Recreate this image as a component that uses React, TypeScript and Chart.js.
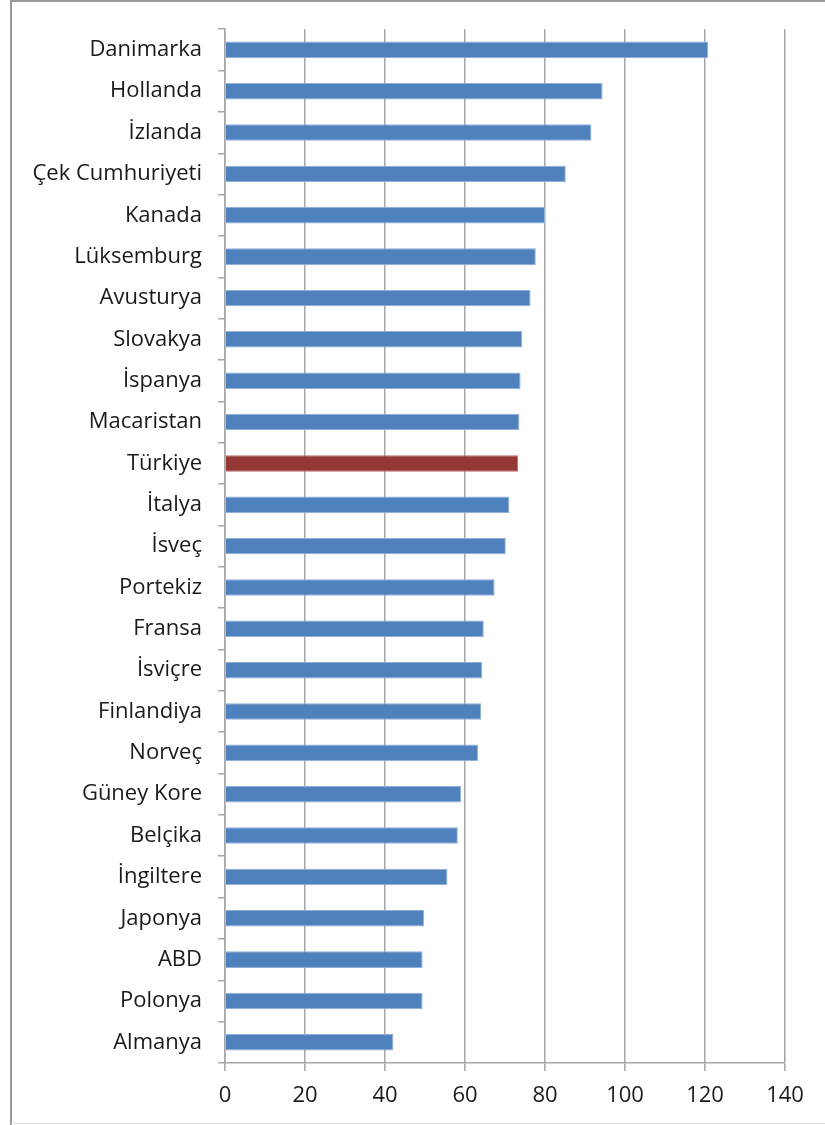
import React, { useEffect, useRef } from "react";
import { Chart, registerables } from "chart.js";

Chart.register(...registerables);

const categories: string[] = [
  "Danimarka", "Hollanda", "İzlanda", "Çek Cumhuriyeti", "Kanada", "Lüksemburg",
  "Avusturya", "Slovakya", "İspanya", "Macaristan", "Türkiye", "İtalya", "İsveç",
  "Portekiz", "Fransa", "İsviçre", "Finlandiya", "Norveç", "Güney Kore", "Belçika",
  "İngiltere", "Japonya", "ABD", "Polonya", "Almanya",
];

const values: number[] = [
  120.8, 94.4, 91.6, 85.2, 80.0, 77.7,
  76.4, 74.3, 73.9, 73.6, 73.3, 71.1, 70.2,
  67.4, 64.7, 64.3, 64.0, 63.3, 59.0, 58.2,
  55.6, 49.8, 49.4, 49.4, 42.1,
];

const highlighted = "Türkiye";
const xTicks: number[] = [0, 20, 40, 60, 80, 100, 120, 140];

const FONT = "'Open Sans', 'Noto Sans', sans-serif";

const framePlugin = {
  id: "frame",
  beforeDraw(chart: any) {
    const ctx = chart.ctx;
    ctx.save();
    ctx.fillStyle = "#ffffff";
    ctx.fillRect(0, 0, chart.width, chart.height);
    ctx.strokeStyle = "#9a9a9a";
    ctx.lineWidth = 2;
    ctx.beginPath();
    ctx.moveTo(11, chart.height);
    ctx.lineTo(11, 1);
    ctx.lineTo(chart.width, 1);
    ctx.stroke();
    ctx.strokeStyle = "#e0e0e0";
    ctx.lineWidth = 1;
    ctx.beginPath();
    ctx.moveTo(11, 1123.5);
    ctx.lineTo(chart.width, 1123.5);
    ctx.stroke();
    ctx.restore();
  },
};

export default function App() {
  const ref = useRef<HTMLCanvasElement | null>(null);

  useEffect(() => {
    if (!ref.current) return;
    const chart = new Chart(ref.current, {
      type: "bar",
      data: {
        labels: categories,
        datasets: [
          {
            data: values,
            backgroundColor: categories.map((c) => (c === highlighted ? "#953735" : "#4F81BD")),
            borderColor: categories.map((c) => (c === highlighted ? "#b86e6c" : "#8fb0da")),
            borderWidth: 1,
            barPercentage: 0.4,
            categoryPercentage: 1,
          },
        ],
      },
      options: {
        indexAxis: "y",
        responsive: false,
        animation: false,
        layout: { padding: { left: 0, top: 27, right: 40, bottom: 0 } },
        plugins: { legend: { display: false }, tooltip: { enabled: false } },
        scales: {
          x: {
            min: 0,
            max: 140,
            afterBuildTicks: (scale: any) => {
              scale.ticks = xTicks.map((v) => ({ value: v }));
            },
            afterFit: (scale: any) => {
              scale.height = 62;
            },
            grid: {
              color: "#a6a6a6",
              lineWidth: 1.5,
              tickLength: 8,
              drawTicks: true,
            },
            border: { color: "#a6a6a6", width: 1.5 },
            ticks: {
              color: "#1a1a1a",
              font: { family: FONT, size: 22 },
              padding: 12,
              maxRotation: 0,
            },
          },
          y: {
            afterFit: (scale: any) => {
              scale.width = 225;
            },
            grid: {
              display: true,
              drawOnChartArea: false,
              offset: true,
              color: "#a6a6a6",
              lineWidth: 1.5,
              tickLength: 7,
            },
            border: { color: "#a6a6a6", width: 1.5 },
            ticks: {
              color: "#1a1a1a",
              font: { family: FONT, size: 22 },
              padding: 16,
              autoSkip: false,
            },
          },
        },
      },
      plugins: [framePlugin],
    });
    return () => chart.destroy();
  }, []);

  return (
    <div style={{ position: "absolute", left: 0, top: 0, width: 825, height: 1125 }}>
      <canvas ref={ref} width={825} height={1125} style={{ width: 825, height: 1125 }} />
    </div>
  );
}
